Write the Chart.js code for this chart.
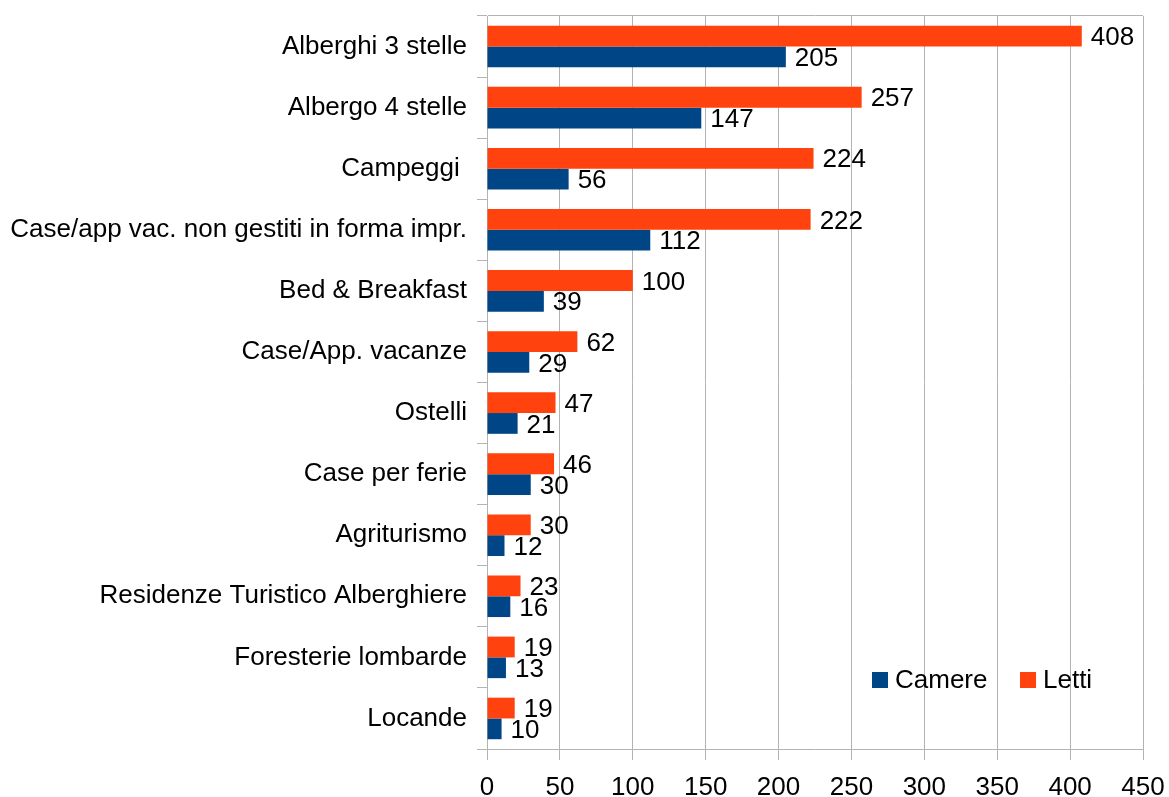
<!DOCTYPE html>
<html>
<head>
<meta charset="utf-8">
<script src="https://cdn.jsdelivr.net/npm/chart.js@4.4.1/dist/chart.umd.min.js"></script>
<style>
	html, body { margin: 0; padding: 0; background: #ffffff; }
	#wrap { width: 1169px; height: 797px; position: relative; }
</style>
</head>
<body>
<div id="wrap"><canvas id="barChart"></canvas></div>
<script>
// Strutture ricettive - camere e letti

const CATEGORIES = [
	'Alberghi 3 stelle',
	'Albergo 4 stelle',
	'Campeggi ',
	'Case/app vac. non gestiti in forma impr.',
	'Bed & Breakfast',
	'Case/App. vacanze',
	'Ostelli',
	'Case per ferie',
	'Agriturismo',
	'Residenze Turistico Alberghiere',
	'Foresterie lombarde',
	'Locande'
];
const LETTI = [408, 257, 224, 222, 100, 62, 47, 46, 30, 23, 19, 19];
const CAMERE = [205, 147, 56, 112, 39, 29, 21, 30, 12, 16, 13, 10];
const X_TICKS = [0, 50, 100, 150, 200, 250, 300, 350, 400, 450];

const FONT = '"Liberation Sans", Arial, sans-serif';
const GRID = '#b3b3b3';

// value labels at the end of each bar
const valueLabels = {
	id: 'valueLabels',
	afterDatasetsDraw(chart) {
		const ctx = chart.ctx;
		ctx.save();
		ctx.font = '26px ' + FONT;
		ctx.fillStyle = '#000000';
		ctx.textAlign = 'left';
		ctx.textBaseline = 'middle';
		chart.data.datasets.forEach((ds, i) => {
			chart.getDatasetMeta(i).data.forEach((bar, j) => {
				ctx.fillText(String(ds.data[j]), bar.x + 9, bar.y + 2);
			});
		});
		ctx.restore();
	}
};

// legend drawn inside the plot area, bottom right
const insideLegend = {
	id: 'insideLegend',
	afterDraw(chart) {
		const ctx = chart.ctx;
		const area = chart.chartArea;
		const y = area.bottom - 69;
		let x = area.right - 271;
		ctx.save();
		ctx.font = '26px ' + FONT;
		ctx.textBaseline = 'middle';
		ctx.textAlign = 'left';
		// Camere first, then Letti
		[1, 0].forEach(i => {
			const ds = chart.data.datasets[i];
			ctx.fillStyle = ds.backgroundColor;
			ctx.fillRect(x, y - 8, 16, 16);
			ctx.fillStyle = '#000000';
			ctx.fillText(ds.label, x + 23, y + 1);
			x += 148;
		});
		ctx.restore();
	}
};

new Chart(document.getElementById('barChart').getContext('2d'), {
	type: 'bar',
	data: {
		labels: CATEGORIES,
		datasets: [
			{
				label: 'Letti',
				data: LETTI,
				backgroundColor: '#ff420e',
				borderWidth: 0,
				barPercentage: 1,
				categoryPercentage: 0.68
			},
			{
				label: 'Camere',
				data: CAMERE,
				backgroundColor: '#004586',
				borderWidth: 0,
				barPercentage: 1,
				categoryPercentage: 0.68
			}
		]
	},
	options: {
		indexAxis: 'y',
		responsive: true,
		maintainAspectRatio: false,
		animation: false,
		layout: {
			padding: { top: 16, right: 26, bottom: 0, left: 0 }
		},
		plugins: {
			legend: { display: false },
			tooltip: { enabled: false }
		},
		scales: {
			x: {
				min: 0,
				max: 450,
				afterBuildTicks: s => { s.ticks = X_TICKS.map(v => ({ value: v })); },
				afterFit: s => { s.height = 48; s.paddingLeft = 0; s.paddingRight = 0; },
				border: { display: true, color: GRID, width: 1 },
				grid: {
					color: GRID,
					lineWidth: 1,
					drawTicks: true,
					tickLength: 11
				},
				ticks: {
					color: '#000000',
					font: { family: FONT, size: 26 },
					padding: 12,
					maxRotation: 0
				}
			},
			y: {
				afterFit: s => { s.width = 487; s.paddingTop = 0; s.paddingBottom = 0; },
				border: { display: true, color: GRID, width: 1 },
				grid: {
					offset: true,
					drawOnChartArea: true,
					color: c => c.index === 0 ? GRID : 'rgba(0,0,0,0)',
					tickColor: GRID,
					tickLength: 10
				},
				ticks: {
					color: '#000000',
					font: { family: FONT, size: 26 },
					padding: 10,
					autoSkip: false
				}
			}
		}
	},
	plugins: [valueLabels, insideLegend]
});
</script>
</body>
</html>
